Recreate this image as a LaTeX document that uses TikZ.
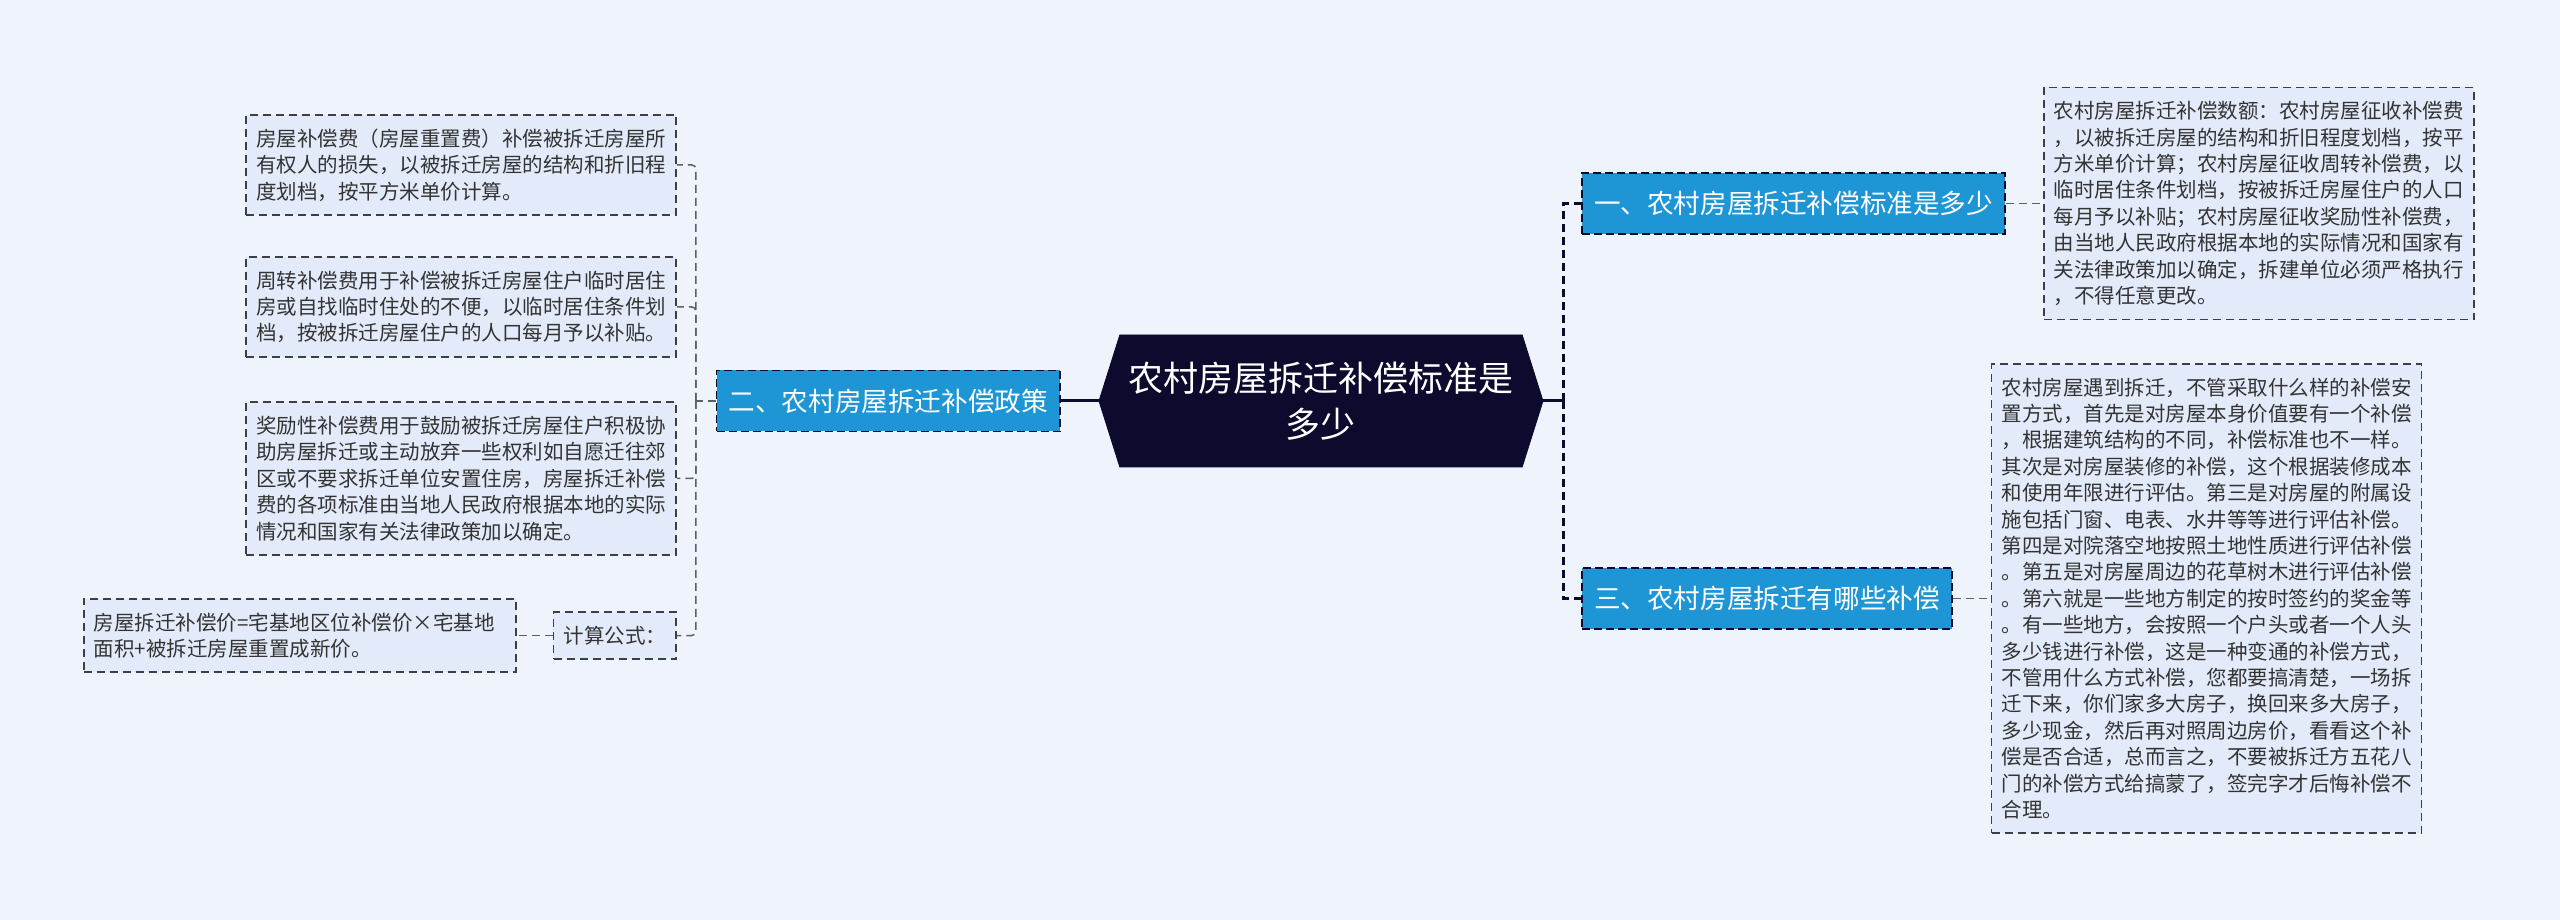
\documentclass[tikz,border=0pt]{standalone}
\usepackage{fontspec}
\setmainfont{Noto Sans CJK SC}
\usetikzlibrary{positioning,shapes.symbols}
\definecolor{bgblue}{HTML}{EEF3FC}
\definecolor{leaffill}{HTML}{E3EBFA}
\definecolor{branchblue}{HTML}{1E96D6}
\definecolor{rootnavy}{HTML}{0C0A2D}
\definecolor{edgegrey}{HTML}{5A5F6A}
\definecolor{leafedge}{HTML}{3C3F47}
\definecolor{leaftext}{HTML}{333333}

\begin{document}
\begin{tikzpicture}[
  root/.style={signal,signal to=west and east,signal pointer angle=145,
               fill=rootnavy,draw=rootnavy,text=white,align=center,
               font=\fontsize{17.5pt}{23pt}\selectfont,
               minimum width=222pt,minimum height=66pt,inner sep=0pt},
  br/.style={draw=rootnavy,line width=0.75pt,dash pattern=on 4pt off 2pt,
             fill=branchblue,text=white,font=\fontsize{13.3pt}{16pt}\selectfont,
             inner xsep=6pt,inner ysep=2pt,minimum height=30.5pt},
  lf/.style={draw=leafedge,line width=0.85pt,dash pattern=on 4pt off 2.5pt,
             fill=leaffill,text=leaftext,align=left,
             font=\fontsize{10.25pt}{13.2pt}\selectfont,
             inner xsep=5pt,inner ysep=7pt},
  trunk/.style={draw=rootnavy,line width=1.5pt},
  trunkd/.style={trunk,dash pattern=on 4pt off 2.5pt},
  lk/.style={draw=edgegrey,line width=0.75pt,dash pattern=on 4pt off 2.5pt,
             rounded corners=2pt}
]
% background and page size
\fill[bgblue] (-660.5pt,200.5pt) rectangle (619.5pt,-259.5pt);

\node[root] (root) {农村房屋拆迁补偿标准是\\多少};

% branches
\node[br,left=19pt of root] (b2) {二、农村房屋拆迁补偿政策};
\node[br,right=19pt of root,yshift=98.75pt] (b1) {一、农村房屋拆迁补偿标准是多少};
\node[br,right=19pt of root,yshift=-98.75pt] (b3) {三、农村房屋拆迁有哪些补偿};

% right details
\node[lf,right=18.5pt of b1] (d1) {农村房屋拆迁补偿数额：农村房屋征收补偿费\\
，以被拆迁房屋的结构和折旧程度划档，按平\\
方米单价计算；农村房屋征收周转补偿费，以\\
临时居住条件划档，按被拆迁房屋住户的人口\\
每月予以补贴；农村房屋征收奖励性补偿费，\\
由当地人民政府根据本地的实际情况和国家有\\
关法律政策加以确定，拆建单位必须严格执行\\
，不得任意更改。};
\node[lf,right=19pt of b3] (d3) {农村房屋遇到拆迁，不管采取什么样的补偿安\\
置方式，首先是对房屋本身价值要有一个补偿\\
，根据建筑结构的不同，补偿标准也不一样。\\
其次是对房屋装修的补偿，这个根据装修成本\\
和使用年限进行评估。第三是对房屋的附属设\\
施包括门窗、电表、水井等等进行评估补偿。\\
第四是对院落空地按照土地性质进行评估补偿\\
。第五是对房屋周边的花草树木进行评估补偿\\
。第六就是一些地方制定的按时签约的奖金等\\
。有一些地方，会按照一个户头或者一个人头\\
多少钱进行补偿，这是一种变通的补偿方式，\\
不管用什么方式补偿，您都要搞清楚，一场拆\\
迁下来，你们家多大房子，换回来多大房子，\\
多少现金，然后再对照周边房价，看看这个补\\
偿是否合适，总而言之，不要被拆迁方五花八\\
门的补偿方式给搞蒙了，签完字才后悔补偿不\\
合理。};

% left details
\node[lf,left=19.5pt of b2,yshift=118pt] (p1) {房屋补偿费（房屋重置费）补偿被拆迁房屋所\\
有权人的损失，以被拆迁房屋的结构和折旧程\\
度划档，按平方米单价计算。};
\node[lf,left=19.5pt of b2,yshift=47pt] (p2) {周转补偿费用于补偿被拆迁房屋住户临时居住\\
房或自找临时住处的不便，以临时居住条件划\\
档，按被拆迁房屋住户的人口每月予以补贴。};
\node[lf,left=19.5pt of b2,yshift=-38.75pt] (p3) {奖励性补偿费用于鼓励被拆迁房屋住户积极协\\
助房屋拆迁或主动放弃一些权利如自愿迁往郊\\
区或不要求拆迁单位安置住房，房屋拆迁补偿\\
费的各项标准由当地人民政府根据本地的实际\\
情况和国家有关法律政策加以确定。};
\node[lf,left=19.5pt of b2,yshift=-117.25pt] (p4) {计算公式：};
\node[lf,left=18pt of p4,text width=206pt] (p5) {房屋拆迁补偿价=宅基地区位补偿价×宅基地\\
面积+被拆迁房屋重置成新价。};

% connectors
\draw[trunk] (root.west) -- (b2.east);
\draw[trunk] (root.east) -- ++(10pt,0) coordinate (rj);
\draw[trunkd] (rj) |- (b1.west);
\draw[trunkd] (rj) |- (b3.west);
\draw[lk] (b1.east) -- (d1.west);
\draw[lk] (b3.east) -- (d3.west);
\draw[lk] (b2.west) -- ++(-10pt,0) coordinate (lj);
\foreach \n in {p1,p2,p3,p4}
  \draw[lk] (lj) |- (\n.east);
\draw[lk] (p4.west) -- (p5.east);
\end{tikzpicture}
\end{document}
